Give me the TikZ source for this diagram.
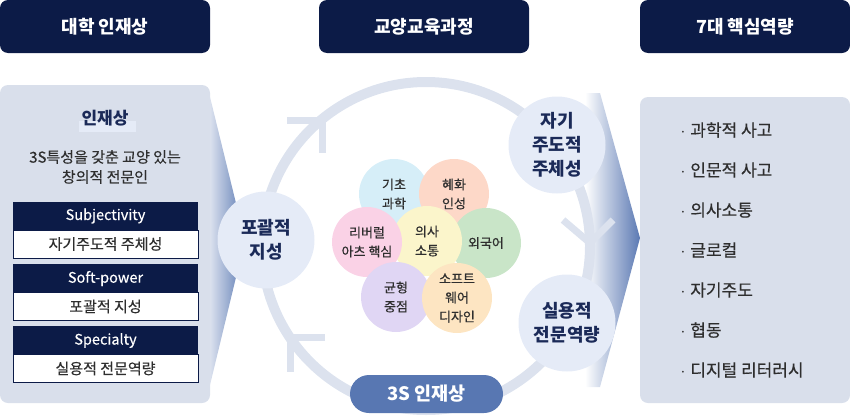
\documentclass[tikz,border=0pt]{standalone}
\usepackage{fontspec}
\setmainfont{Noto Sans CJK KR}[UprightFeatures={FakeBold=0.35}]
\usetikzlibrary{positioning}
\definecolor{navy}{HTML}{0C1B47}
\definecolor{panel}{HTML}{D9DFEB}
\definecolor{ringc}{HTML}{DCE2EE}
\definecolor{ballc}{HTML}{E5EBF7}
\definecolor{pillc}{HTML}{5877B2}
\definecolor{funnel}{HTML}{5B79B3}
\definecolor{txt}{HTML}{2E2E2E}
\definecolor{ink}{HTML}{1B2A58}
\definecolor{pcyan}{HTML}{D6EEF8}
\definecolor{ppeach}{HTML}{FDD8C8}
\definecolor{pgreen}{HTML}{C9E5C8}
\definecolor{ppink}{HTML}{FAD2E6}
\definecolor{pyellow}{HTML}{FBF5CB}
\definecolor{pviolet}{HTML}{E0D6F4}
\definecolor{porange}{HTML}{FDE5C2}

\begin{document}
\begin{tikzpicture}[x=1pt,y=-1pt,
  head/.style={fill=navy,rounded corners=8pt,minimum width=210pt,minimum height=53pt,
    text=white,font=\fontsize{18}{20}\selectfont\bfseries},
  tag/.style={fill=navy,minimum width=185pt,minimum height=29pt,inner sep=0pt,
    text=white,font=\fontsize{14.5}{16}\selectfont},
  val/.style={draw=navy,fill=white,minimum width=185pt,minimum height=28pt,inner sep=0pt,
    text=txt,font=\fontsize{15}{16}\selectfont},
  ball/.style={circle,fill=ballc,minimum size=97pt,inner sep=0pt,align=center,
    text=ink,font=\fontsize{18}{24}\selectfont\bfseries},
  petal/.style={circle,fill=#1,minimum size=70pt,inner sep=0pt,align=center,
    text=txt,font=\fontsize{13}{19}\selectfont},
  item/.style={anchor=west,text=txt,font=\fontsize{17}{18}\selectfont},
  ringline/.style={draw=ringc,line width=10pt},
  turn/.style={draw=ringc,line width=7pt}]
\useasboundingbox (0,0) rectangle (850,415);

\node[head] (hleft) at (105,26.5) {대학 인재상};
\node[head] (hmid) at (424,26.5) {교양교육과정};
\node[head] (hright) at (745,26.5) {7대 핵심역량};

\shade[left color=white,right color=funnel] (200,97) -- (210,97) -- (245,240) -- (210,385) -- (200,385) -- cycle;
\shade[left color=white,right color=funnel] (585,93) -- (600,93) -- (640,238) -- (600,387) -- (585,387) -- cycle;

\fill[panel,rounded corners=8pt] (0,85) rectangle (210,403);
\fill[panel,rounded corners=8pt] (640,97) rectangle (850,403);

\fill[ballc] (79,121) rectangle (136,132);
\node[text=ink,font=\fontsize{17}{18}\selectfont\bfseries] (ideal) at (105,118) {인재상};
\node[align=center,text=txt,font=\fontsize{15}{20}\selectfont] (idealtxt) at (105,167) {3S특성을 갖춘 교양 있는\\창의적 전문인};

\node[tag] (s1) at (105.5,216) {Subjectivity};
\node[val] (v1) at (105.5,244) {자기주도적 주체성};
\node[tag] (s2) at (105.5,278.5) {Soft-power};
\node[val] (v2) at (105.5,306.5) {포괄적 지성};
\node[tag] (s3) at (105.5,340.5) {Specialty};
\node[val] (v3) at (105.5,368.5) {실용적 전문역량};

\draw[ringline] (426,246) circle[radius=164];
\draw[turn] (287,120) -- (322,120) -- (322,153);
\draw[turn] (563,220) -- (590,243) -- (613,220);
\draw[turn] (325,337) -- (290,337) -- (290,372);

\node[ball] (broad) at (266,240) {포괄적\\지성};
\node[ball] (self) at (557,145) {자기\\주도적\\주체성};
\node[ball] (prac) at (567,323) {실용적\\전문역량};
\node[fill=pillc,rounded corners=19pt,minimum width=153pt,minimum height=38pt,
  text=white,font=\fontsize{18.5}{20}\selectfont\bfseries] (threes) at (426.5,394) {3S 인재상};

\node[petal=pcyan] (sci) at (394,194) {기초\\과학};
\node[petal=ppeach] (hye) at (454,194) {혜화\\인성};
\node[petal=pgreen] (lang) at (486,243) {외국어};
\node[petal=pyellow] (comm) at (427,241) {의사\\소통};
\node[petal=ppink] (lib) at (367,242) {리버럴\\아츠 핵심};
\node[petal=pviolet] (bal) at (396,297) {균형\\중점};
\node[petal=porange] (soft) at (457,298) {소프트\\웨어\\디자인};

\foreach \t [count=\i] in {과학적 사고,인문적 사고,의사소통,글로컬,자기주도,협동,디지털 리터러시}
  \node[item] (k\i) at (677,90+40*\i) {$\cdot$\hspace{5pt}\t};
\end{tikzpicture}
\end{document}
